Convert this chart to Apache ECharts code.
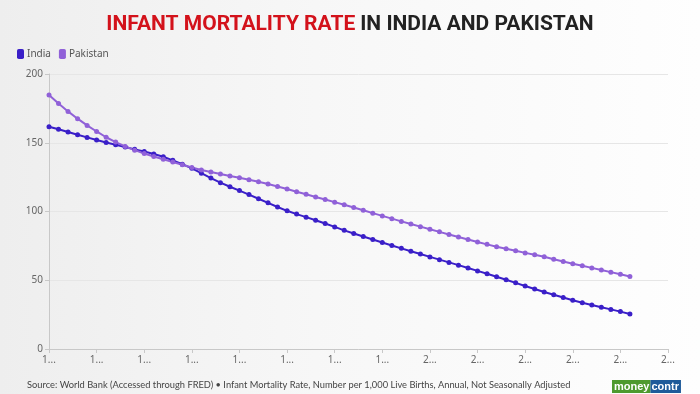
<!DOCTYPE html>
<html>
<head>
<meta charset="utf-8">
<script src="https://cdn.jsdelivr.net/npm/echarts@6/dist/echarts.min.js"></script>
<style>
html,body{margin:0;padding:0;}
#chart{width:700px;height:394px;}
</style>
</head>
<body>
<div id="chart"></div>
<script>
const years = [];
for (let y = 1960; y <= 2021; y++) years.push(y);

const india = [
161.7,159.8,157.8,155.8,153.9,152.0,150.2,148.6,146.9,145.2,
143.6,141.8,139.8,137.2,134.4,131.4,127.9,124.3,121.0,118.0,
115.2,112.3,109.3,106.3,103.3,100.5,98.1,95.9,93.6,91.3,
88.8,86.3,84.0,81.8,79.6,77.4,75.3,73.2,71.1,69.1,
67.0,65.0,63.0,61.0,58.9,56.8,54.7,52.6,50.4,48.1,
45.8,43.6,41.5,39.4,37.4,35.5,33.7,32.0,30.4,28.8,
27.2,25.5
];

const pakistan = [
184.7,178.5,172.8,167.5,162.6,158.2,154.0,150.5,147.3,144.6,
142.2,140.0,138.0,136.0,134.0,132.0,130.2,128.7,127.2,125.8,
124.5,123.1,121.6,120.0,118.2,116.3,114.4,112.5,110.6,108.7,
106.8,104.9,102.9,100.9,98.8,96.8,94.8,92.8,90.9,89.0,
87.1,85.2,83.3,81.4,79.6,77.8,76.1,74.4,72.9,71.4,
69.9,68.5,67.1,65.3,63.6,62.0,60.5,59.0,57.5,55.9,
54.3,52.7
];

const seriesNames = ['India', 'Pakistan'];
const yTicks = [0, 50, 100, 150, 200];

const chart = echarts.init(document.getElementById('chart'), null, {renderer: 'canvas'});
const pair = (arr) => years.map((y, i) => [y, arr[i]]);

chart.setOption({
  animation: false,
  backgroundColor: {
    type: 'linear', x: 0, y: 0, x2: 1, y2: 0,
    colorStops: [{offset: 0, color: '#eeeeee'}, {offset: 0.45, color: '#f7f7f7'}, {offset: 1, color: '#fefefe'}]
  },
  title: {
    text: '{r|INFANT MORTALITY RATE} {k|IN INDIA AND PAKISTAN}',
    left: 'center',
    top: 9,
    textStyle: {
      rich: {
        r: {color: '#d3121b', fontSize: 21, fontWeight: 'bold', fontFamily: 'Liberation Sans Narrow, Roboto, sans-serif'},
        k: {color: '#222222', fontSize: 21, fontWeight: 'bold', fontFamily: 'Liberation Sans Narrow, Roboto, sans-serif'}
      }
    }
  },
  legend: {
    data: seriesNames,
    left: 12,
    top: 44,
    icon: 'roundRect',
    itemWidth: 7,
    itemHeight: 10,
    itemGap: 8,
    textStyle: {fontSize: 10, color: '#555', fontFamily: 'Noto Sans, sans-serif', padding: [0, 0, 0, -2]}
  },
  grid: {left: 49, right: 32, top: 74, bottom: 45, containLabel: false},
  xAxis: {
    type: 'value',
    min: 1960, max: 2025, interval: 5,
    axisLine: {show: true, lineStyle: {color: '#c8c8c8'}},
    axisTick: {show: true, length: 4, lineStyle: {color: '#c8c8c8'}},
    splitLine: {show: false},
    axisLabel: {
      color: '#666', fontSize: 10, margin: 6,
      fontFamily: 'Noto Sans, sans-serif',
      formatter: (v) => String(v).charAt(0) + '...'
    }
  },
  yAxis: {
    type: 'value',
    min: 0, max: 200, interval: 50,
    axisLine: {show: true, lineStyle: {color: '#c8c8c8'}},
    axisTick: {show: true, length: 4, lineStyle: {color: '#c8c8c8'}},
    splitLine: {show: true, lineStyle: {color: '#e6e6e6', width: 1}},
    axisLabel: {color: '#666', fontSize: 10, margin: 6, fontFamily: 'Noto Sans, sans-serif',
      formatter: (v) => yTicks.includes(v) ? String(v) : ''}
  },
  series: [
    {
      name: seriesNames[0], type: 'line', data: pair(india),
      color: '#3a1fc8',
      symbol: 'circle', symbolSize: 5,
      lineStyle: {width: 2, color: '#3a1fc8'},
      itemStyle: {color: '#3a1fc8'}
    },
    {
      name: seriesNames[1], type: 'line', data: pair(pakistan),
      color: '#9061d8',
      symbol: 'circle', symbolSize: 5,
      lineStyle: {width: 2, color: '#9061d8'},
      itemStyle: {color: '#9061d8'}
    }
  ],
  graphic: [
    {
      type: 'text', left: 27, top: 380,
      style: {
        text: 'Source: World Bank (Accessed through FRED) • Infant Mortality Rate, Number per 1,000 Live Births, Annual, Not Seasonally Adjusted',
        fill: '#444', fontSize: 9.3, fontFamily: 'Lato, sans-serif'
      }
    },
    {
      type: 'text', left: 612, top: 380,
      style: {
        text: '{g|money}{b|contr}',
        rich: {
          g: {fill: '#ffffff', backgroundColor: '#4e9a2e', fontSize: 11, fontWeight: 'bold', fontFamily: 'Liberation Sans, sans-serif', padding: [1, 1, 1, 2]},
          b: {fill: '#ffffff', backgroundColor: '#1f5b9a', fontSize: 11, fontWeight: 'bold', fontFamily: 'Liberation Sans, sans-serif', padding: [1, 2, 1, 1]}
        }
      }
    }
  ]
});
</script>
</body>
</html>
